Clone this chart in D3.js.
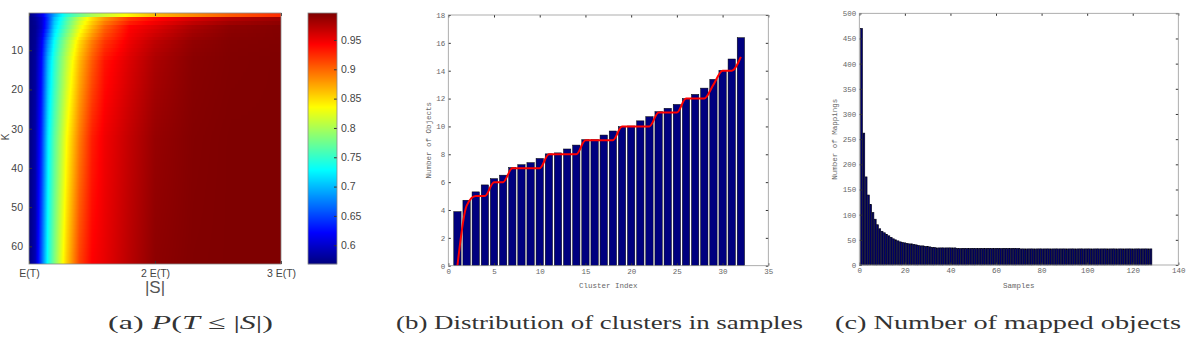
<!DOCTYPE html>
<html>
<head>
<meta charset="utf-8">
<style>
  body { margin: 0; background: #fff; }
  svg { display: block; }
  .heat .tick text { font-family: 'Liberation Sans', Arial, sans-serif; font-size: 10.5px; fill: #444; }
  .mono .tick text { font-family: 'Liberation Mono', 'DejaVu Sans Mono', monospace; font-size: 7.5px; fill: #666; }
  .tick line { stroke: #333; }
  .domain { stroke: #999; }
  .axlabel { font-family: 'Liberation Mono', 'DejaVu Sans Mono', monospace; font-size: 7.5px; fill: #666; }
  .caption { font-family: 'Liberation Serif', 'DejaVu Serif', serif; font-size: 19px; fill: #333; }
</style>
</head>
<body>
<svg width="1191" height="342"></svg>

<script src="https://d3js.org/d3.v7.min.js"></script>
<script>
// ---- (a) P(T <= |S|) heat map ----
const sCols = [1.0, 1.05, 1.1, 1.15, 1.2, 1.25, 1.3, 1.4, 1.5, 1.6, 1.8, 2.0, 2.3, 2.6, 3.0]; // |S| in units of E(T)
const kRows = [1, 2, 4, 8, 13, 32, 64];
const probK1  = [0.568, 0.585, 0.61, 0.65, 0.69, 0.72, 0.745, 0.775, 0.80, 0.815, 0.84, 0.865, 0.885, 0.905, 0.925];
const probK2  = [0.568, 0.578, 0.60, 0.645, 0.70, 0.73, 0.76, 0.81, 0.85, 0.88, 0.92, 0.94, 0.96, 0.975, 0.985];
const probK4  = [0.568, 0.575, 0.60, 0.65, 0.71, 0.74, 0.77, 0.825, 0.865, 0.90, 0.942, 0.956, 0.978, 0.99, 0.994];
const probK8  = [0.568, 0.577, 0.615, 0.68, 0.73, 0.765, 0.795, 0.85, 0.89, 0.92, 0.95, 0.97, 0.988, 0.994, 0.995];
const probK13 = [0.568, 0.58, 0.625, 0.70, 0.745, 0.78, 0.81, 0.865, 0.905, 0.935, 0.958, 0.978, 0.992, 0.995, 0.996];
const probK32 = [0.568, 0.585, 0.64, 0.72, 0.765, 0.80, 0.835, 0.89, 0.93, 0.948, 0.968, 0.986, 0.994, 0.996, 0.996];
const probK64 = [0.568, 0.59, 0.66, 0.735, 0.78, 0.82, 0.857, 0.915, 0.943, 0.952, 0.972, 0.99, 0.995, 0.996, 0.996];
const probRows = [probK1, probK2, probK4, probK8, probK13, probK32, probK64];
const heatXTicks = [1, 2, 3];
const heatXLabels = ["E(T)", "2 E(T)", "3 E(T)"];
const heatYTicks = [10, 20, 30, 40, 50, 60];
const cbarRange = [0.568, 0.996];
const cbarTicks = [0.6, 0.65, 0.7, 0.75, 0.8, 0.85, 0.9, 0.95];

// ---- (b) distribution of clusters in samples ----
const clusterSizes = [3.88, 4.7, 5.3, 5.8, 6.25, 6.5, 7.05, 7.25, 7.4, 7.7, 8.03, 8.1, 8.38, 8.66, 9.05,
  9.05, 9.38, 9.67, 9.98, 10.03, 10.4, 10.7, 11.06, 11.3, 11.58, 12.0, 12.3, 12.75, 13.38, 14.02, 14.84, 16.37];
const roundedSizes = [0, 4.3, 5, 5, 6, 6, 7, 7, 7, 7, 8, 8, 8, 8, 9, 9, 9, 9, 10, 10, 10, 10,
  11, 11, 11, 12, 12, 12, 13, 14, 14, 15];

// ---- (c) number of mapped objects ----
const mappings = [470, 262, 175, 139, 120, 104, 91, 80, 72, 67, 64, 61, 58, 55, 52, 50, 48, 46, 45, 44,
  43, 42, 42, 41, 40, 39, 38, 38, 37, 37, 36, 35, 35, 34, 34, 34, 34, 34, 34, 34,
  34, 34, 33, 33, 33, 33, 33, 33, 33, 33, 33, 33, 33, 33, 33, 33, 33, 33, 33, 33,
  33, 33, 33, 33, 33, 33, 33, 33, 33, 33, 32, 32, 32, 32, 32, 32, 32, 32, 32, 32,
  32, 32, 32, 32, 32, 32, 32, 32, 32, 32, 32, 32, 32, 32, 32, 32, 32, 32, 32, 32,
  32, 32, 32, 32, 32, 32, 32, 32, 32, 32, 32, 32, 32, 32, 32, 32, 32, 32, 32, 32,
  32, 32, 32, 32, 32, 32, 32, 32];

const svg = d3.select("svg");

// jet colour map
const jetColors = ["#00007f", "#0000ff", "#007fff", "#00ffff", "#7fff7f", "#ffff00", "#ff7f00", "#ff0000", "#7f0000"];
const jet = d3.scaleLinear()
  .domain(jetColors.map((c, i) => cbarRange[0] + (cbarRange[1] - cbarRange[0]) * i / (jetColors.length - 1)))
  .range(jetColors)
  .clamp(true);

// ================= panel (a) =================
const ha = { left: 29, right: 281, top: 13, bottom: 264 };
const xh = d3.scaleLinear().domain([1, 3]).range([ha.left, ha.right]);
const yh = d3.scaleLinear().domain([0.5, 64.5]).range([ha.top, ha.bottom]);

function lerp(xs, ys, x) {
  let i = d3.bisectRight(xs, x) - 1;
  i = Math.max(0, Math.min(xs.length - 2, i));
  let t = (x - xs[i]) / (xs[i + 1] - xs[i]);
  t = Math.max(0, Math.min(1, t));
  return ys[i] * (1 - t) + ys[i + 1] * t;
}

const W = ha.right - ha.left, H = ha.bottom - ha.top;
const canvas = document.createElement("canvas");
canvas.width = W; canvas.height = H;
const ctx = canvas.getContext("2d");
const img = ctx.createImageData(W, H);
for (let py = 0; py < H; py++) {
  let k = Math.round(yh.invert(ha.top + py + 0.5));
  k = Math.max(1, Math.min(64, k));
  const colVals = sCols.map((s, j) => lerp(kRows, probRows.map(r => r[j]), k));
  for (let px = 0; px < W; px++) {
    const s = xh.invert(ha.left + px + 0.5);
    const c = d3.rgb(jet(lerp(sCols, colVals, s)));
    const o = (py * W + px) * 4;
    img.data[o] = c.r; img.data[o + 1] = c.g; img.data[o + 2] = c.b; img.data[o + 3] = 255;
  }
}
ctx.putImageData(img, 0, 0);

const heat = svg.append("g").attr("class", "heat");
heat.append("image")
  .attr("x", ha.left).attr("y", ha.top)
  .attr("width", W).attr("height", H)
  .attr("preserveAspectRatio", "none")
  .attr("href", canvas.toDataURL());

heat.append("g")
  .attr("transform", `translate(${ha.left},0)`)
  .call(d3.axisLeft(yh).tickValues(heatYTicks).tickSize(-3).tickPadding(6))
  .call(g => g.select(".domain").remove());
heat.append("g")
  .attr("transform", `translate(0,${ha.bottom})`)
  .call(d3.axisBottom(xh).tickValues(heatXTicks).tickFormat((d, i) => heatXLabels[i]).tickSize(-3).tickPadding(6))
  .call(g => g.select(".domain").remove());
heat.append("g")
  .attr("transform", `translate(0,${ha.top})`)
  .call(d3.axisTop(xh).tickValues(heatXTicks).tickFormat("").tickSize(-3))
  .call(g => g.select(".domain").remove());
heat.append("rect")
  .attr("x", ha.left).attr("y", ha.top).attr("width", W).attr("height", H)
  .attr("fill", "none").attr("stroke", "#888").attr("stroke-width", 0.8);

heat.append("text")
  .attr("x", xh(2)).attr("y", 293)
  .attr("text-anchor", "middle")
  .style("font-family", "'Liberation Sans', Arial, sans-serif")
  .style("font-size", "17px").style("fill", "#555")
  .text("|S|");
heat.append("text")
  .attr("transform", "translate(9,137) rotate(-90)")
  .attr("text-anchor", "middle")
  .style("font-family", "'Liberation Sans', Arial, sans-serif")
  .style("font-size", "10px").style("fill", "#444")
  .text("K");

// colour bar
const cb = { left: 308, right: 337 };
const yc = d3.scaleLinear().domain(cbarRange).range([ha.bottom, ha.top]);
heat.append("g").selectAll("rect")
  .data(d3.range(ha.top, ha.bottom))
  .join("rect")
  .attr("x", cb.left).attr("y", d => d)
  .attr("width", cb.right - cb.left).attr("height", 1.2)
  .attr("fill", d => jet(yc.invert(d + 0.5)));
heat.append("g")
  .attr("transform", `translate(${cb.right},0)`)
  .call(d3.axisRight(yc).tickValues(cbarTicks).tickFormat(d3.format("~g")).tickSize(-3).tickPadding(4))
  .call(g => g.select(".domain").remove());
heat.append("rect")
  .attr("x", cb.left).attr("y", ha.top).attr("width", cb.right - cb.left).attr("height", H)
  .attr("fill", "none").attr("stroke", "#888").attr("stroke-width", 0.8);

// ================= helper for MATLAB-like boxed axes =================
function boxAxes(g, x, y, xTicks, yTicks, box) {
  g.append("g").attr("class", "mono")
    .attr("transform", `translate(0,${box.bottom})`)
    .call(d3.axisBottom(x).tickValues(xTicks).tickSize(-2.5).tickPadding(3))
    .call(s => s.select(".domain").remove());
  g.append("g").attr("class", "mono")
    .attr("transform", `translate(${box.left},0)`)
    .call(d3.axisLeft(y).tickValues(yTicks).tickSize(-2.5).tickPadding(3))
    .call(s => s.select(".domain").remove());
  g.append("g")
    .attr("transform", `translate(0,${box.top})`)
    .call(d3.axisTop(x).tickValues(xTicks).tickFormat("").tickSize(-2.5))
    .call(s => s.select(".domain").remove());
  g.append("g")
    .attr("transform", `translate(${box.right},0)`)
    .call(d3.axisRight(y).tickValues(yTicks).tickFormat("").tickSize(-2.5))
    .call(s => s.select(".domain").remove());
  g.append("rect")
    .attr("x", box.left).attr("y", box.top)
    .attr("width", box.right - box.left).attr("height", box.bottom - box.top)
    .attr("fill", "none").attr("stroke", "#999").attr("stroke-width", 0.8);
}

// ================= panel (b) =================
const bb = { left: 448.3, right: 768.3, top: 15, bottom: 265.7 };
const xb = d3.scaleLinear().domain([0, 35]).range([bb.left, bb.right]);
const yb = d3.scaleLinear().domain([0, 18]).range([bb.bottom, bb.top]);
const gb = svg.append("g");
gb.append("g").selectAll("rect")
  .data(clusterSizes)
  .join("rect")
  .attr("x", (d, i) => xb(i + 1 - 0.4))
  .attr("width", xb(0.8) - xb(0))
  .attr("y", d => yb(d))
  .attr("height", d => yb(0) - yb(d))
  .attr("fill", "#00007f")
  .attr("stroke", "#000")
  .attr("stroke-width", 0.5);
gb.append("path")
  .datum(roundedSizes)
  .attr("fill", "none")
  .attr("stroke", "#ff0000")
  .attr("stroke-width", 2)
  .attr("d", d3.line().x((d, i) => xb(i + 1)).y(d => yb(d)).curve(d3.curveMonotoneX));
boxAxes(gb, xb, yb, d3.range(0, 36, 5), d3.range(0, 19, 2), bb);
gb.append("text").attr("class", "axlabel")
  .attr("x", (bb.left + bb.right) / 2).attr("y", 287.5)
  .attr("text-anchor", "middle").text("Cluster Index");
gb.append("text").attr("class", "axlabel")
  .attr("transform", `translate(431,${(bb.top + bb.bottom) / 2}) rotate(-90)`)
  .attr("text-anchor", "middle").text("Number of Objects");

// ================= panel (c) =================
const bc = { left: 859.3, right: 1178.3, top: 13.3, bottom: 265 };
const xc = d3.scaleLinear().domain([0, 140]).range([bc.left, bc.right]);
const ycm = d3.scaleLinear().domain([0, 500]).range([bc.bottom, bc.top]);
const gc = svg.append("g");
gc.append("g").selectAll("rect")
  .data(mappings)
  .join("rect")
  .attr("x", (d, i) => xc(i + 1 - 0.4))
  .attr("width", xc(0.8) - xc(0))
  .attr("y", d => ycm(d))
  .attr("height", d => ycm(0) - ycm(d))
  .attr("fill", "#000068")
  .attr("stroke", "#000010")
  .attr("stroke-width", 0.6);
boxAxes(gc, xc, ycm, d3.range(0, 141, 20), d3.range(0, 501, 50), bc);
gc.append("text").attr("class", "axlabel")
  .attr("x", (bc.left + bc.right) / 2).attr("y", 287.5)
  .attr("text-anchor", "middle").text("Samples");
gc.append("text").attr("class", "axlabel")
  .attr("transform", `translate(837,${(bc.top + bc.bottom) / 2}) rotate(-90)`)
  .attr("text-anchor", "middle").text("Number of Mappings");

// ================= captions =================
const capA = svg.append("text").attr("class", "caption")
  .attr("x", 108).attr("y", 329)
  .attr("textLength", 165).attr("lengthAdjust", "spacingAndGlyphs");
capA.append("tspan").text("(a) ");
capA.append("tspan").style("font-style", "italic").text("P");
capA.append("tspan").text("(");
capA.append("tspan").style("font-style", "italic").text("T");
capA.append("tspan").text(" \u2264 |");
capA.append("tspan").style("font-style", "italic").text("S");
capA.append("tspan").text("|)");
svg.append("text").attr("class", "caption")
  .attr("x", 396).attr("y", 329)
  .attr("textLength", 407).attr("lengthAdjust", "spacingAndGlyphs")
  .text("(b) Distribution of clusters in samples");
svg.append("text").attr("class", "caption")
  .attr("x", 835).attr("y", 329)
  .attr("textLength", 346).attr("lengthAdjust", "spacingAndGlyphs")
  .text("(c) Number of mapped objects");
</script>
</body>
</html>
